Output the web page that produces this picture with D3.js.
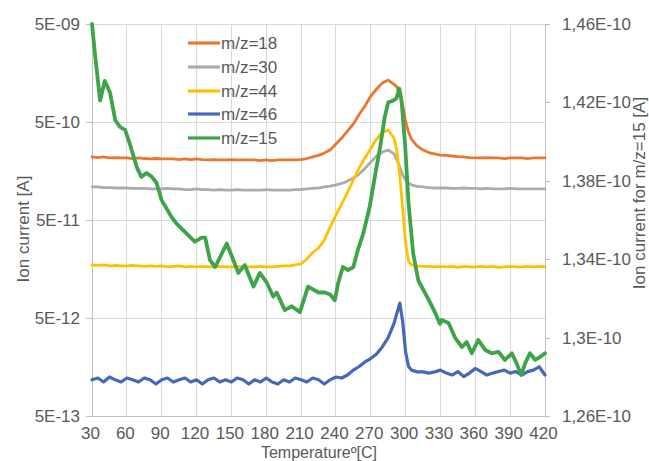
<!DOCTYPE html>
<html>
<head>
<meta charset="utf-8">
<script src="https://cdn.jsdelivr.net/npm/d3@7/dist/d3.min.js"></script>
<style>
  html, body { margin: 0; padding: 0; background: #fff; }
  svg { display: block; font-family: "Liberation Sans", Arial, sans-serif; }
</style>
</head>
<body>
<svg id="chart" width="649" height="461"></svg>
<script>
// ---------- data ----------
const temps = [30,35,40,45,50,55,60,65,70,75,80,85,90,95,100,105,110,115,120,125,130,135,140,145,150,155,160,165,170,175,180,185,190,195,200,205,210,215,220,225,230,235,240,245,250,255,260,265,270,275,280,285,290,292.5,295,297.5,300,302.5,305,310,315,320,325,330,335,340,345,350,355,360,365,370,375,380,385,390,395,400,405,410,415,420];

const mz18 = [2.20e-10,2.17e-10,2.20e-10,2.15e-10,2.17e-10,2.15e-10,2.15e-10,2.12e-10,2.15e-10,2.12e-10,2.10e-10,2.12e-10,2.10e-10,2.10e-10,2.10e-10,2.07e-10,2.10e-10,2.07e-10,2.10e-10,2.07e-10,2.05e-10,2.07e-10,2.05e-10,2.05e-10,2.07e-10,2.05e-10,2.05e-10,2.05e-10,2.05e-10,2.02e-10,2.05e-10,2.02e-10,2.05e-10,2.05e-10,2.05e-10,2.05e-10,2.07e-10,2.12e-10,2.20e-10,2.28e-10,2.41e-10,2.59e-10,2.98e-10,3.43e-10,4.05e-10,4.77e-10,5.96e-10,7.28e-10,9.21e-10,1.086e-9,1.25e-9,1.34e-9,1.21e-9,1.14e-9,9.4e-10,7.45e-10,5.1e-10,3.95e-10,3.35e-10,2.84e-10,2.59e-10,2.44e-10,2.36e-10,2.30e-10,2.28e-10,2.25e-10,2.22e-10,2.20e-10,2.17e-10,2.15e-10,2.15e-10,2.17e-10,2.15e-10,2.15e-10,2.12e-10,2.15e-10,2.15e-10,2.15e-10,2.12e-10,2.15e-10,2.15e-10,2.15e-10];

const mz30 = [1.09e-10,1.09e-10,1.07e-10,1.07e-10,1.06e-10,1.06e-10,1.06e-10,1.05e-10,1.05e-10,1.05e-10,1.04e-10,1.04e-10,1.04e-10,1.05e-10,1.04e-10,1.04e-10,1.02e-10,1.02e-10,1.04e-10,1.02e-10,1.02e-10,1.01e-10,1.02e-10,1.01e-10,1.01e-10,1.02e-10,1.01e-10,1.01e-10,1.01e-10,1.01e-10,1.02e-10,1.01e-10,1.01e-10,1.01e-10,1.01e-10,1.02e-10,1.02e-10,1.04e-10,1.05e-10,1.06e-10,1.09e-10,1.11e-10,1.14e-10,1.18e-10,1.25e-10,1.34e-10,1.47e-10,1.68e-10,1.95e-10,2.25e-10,2.47e-10,2.59e-10,2.36e-10,2.05e-10,1.74e-10,1.44e-10,1.28e-10,1.19e-10,1.14e-10,1.10e-10,1.09e-10,1.07e-10,1.06e-10,1.06e-10,1.06e-10,1.05e-10,1.05e-10,1.06e-10,1.05e-10,1.05e-10,1.04e-10,1.05e-10,1.04e-10,1.04e-10,1.04e-10,1.05e-10,1.04e-10,1.04e-10,1.04e-10,1.04e-10,1.04e-10,1.04e-10];

const mz44 = [1.74e-11,1.72e-11,1.74e-11,1.70e-11,1.72e-11,1.70e-11,1.70e-11,1.72e-11,1.70e-11,1.68e-11,1.70e-11,1.68e-11,1.70e-11,1.66e-11,1.68e-11,1.70e-11,1.66e-11,1.68e-11,1.66e-11,1.68e-11,1.66e-11,1.66e-11,1.68e-11,1.66e-11,1.66e-11,1.68e-11,1.66e-11,1.66e-11,1.66e-11,1.68e-11,1.66e-11,1.66e-11,1.68e-11,1.70e-11,1.70e-11,1.74e-11,1.78e-11,2.00e-11,2.33e-11,2.59e-11,3.12e-11,4.24e-11,5.62e-11,7.28e-11,9.65e-11,1.28e-10,1.70e-10,2.15e-10,2.68e-10,3.35e-10,3.91e-10,4.14e-10,3.43e-10,2.53e-10,1.41e-10,6.47e-11,2.91e-11,1.89e-11,1.74e-11,1.70e-11,1.68e-11,1.68e-11,1.66e-11,1.68e-11,1.66e-11,1.68e-11,1.64e-11,1.68e-11,1.66e-11,1.66e-11,1.68e-11,1.66e-11,1.68e-11,1.64e-11,1.66e-11,1.68e-11,1.66e-11,1.66e-11,1.68e-11,1.66e-11,1.68e-11,1.66e-11];

const mz46 = [1.17e-12,1.22e-12,1.11e-12,1.25e-12,1.17e-12,1.11e-12,1.22e-12,1.17e-12,1.11e-12,1.22e-12,1.17e-12,1.06e-12,1.17e-12,1.22e-12,1.11e-12,1.17e-12,1.22e-12,1.11e-12,1.17e-12,1.06e-12,1.17e-12,1.22e-12,1.11e-12,1.17e-12,1.11e-12,1.22e-12,1.17e-12,1.06e-12,1.17e-12,1.11e-12,1.22e-12,1.11e-12,1.06e-12,1.17e-12,1.11e-12,1.22e-12,1.17e-12,1.11e-12,1.22e-12,1.17e-12,1.06e-12,1.17e-12,1.25e-12,1.22e-12,1.31e-12,1.47e-12,1.60e-12,1.78e-12,1.93e-12,2.15e-12,2.55e-12,3.15e-12,4.4e-12,5.6e-12,7.1e-12,4.55e-12,2.25e-12,1.6e-12,1.47e-12,1.41e-12,1.41e-12,1.37e-12,1.41e-12,1.47e-12,1.37e-12,1.31e-12,1.42e-12,1.26e-12,1.37e-12,1.53e-12,1.42e-12,1.31e-12,1.37e-12,1.42e-12,1.47e-12,1.37e-12,1.42e-12,1.31e-12,1.42e-12,1.47e-12,1.59e-12,1.31e-12];

const tempsMz15 = [30,32.5,37,41,45.5,50,54,58.5,62.5,68.5,72.5,77,81.5,85.5,90,98.5,103,111.5,118.5,124.5,127.5,131.5,136,146,156,161.5,169,174.5,180.5,186,189,196,202,209,216,225,230.5,235,239,242,246,250.5,255,259,263.5,269,273.5,278,282,285,289.5,292,294.5,296.5,299.5,302.5,306.5,311,316.5,321,325.5,329.5,331,337,342.5,348.5,352.5,357,362.5,368.5,374,380,385.5,391.5,395.5,399.5,403,407,411.5,415.5,420];
const mz15 = [1.46e-10,1.445e-10,1.421e-10,1.431e-10,1.425e-10,1.411e-10,1.4075e-10,1.406e-10,1.399e-10,1.387e-10,1.382e-10,1.384e-10,1.382e-10,1.379e-10,1.370e-10,1.3615e-10,1.358e-10,1.353e-10,1.349e-10,1.351e-10,1.351e-10,1.3396e-10,1.336e-10,1.348e-10,1.333e-10,1.337e-10,1.326e-10,1.333e-10,1.328e-10,1.321e-10,1.323e-10,1.314e-10,1.316e-10,1.313e-10,1.326e-10,1.323e-10,1.323e-10,1.322e-10,1.319e-10,1.328e-10,1.336e-10,1.3345e-10,1.336e-10,1.345e-10,1.353e-10,1.3666e-10,1.382e-10,1.397e-10,1.4125e-10,1.420e-10,1.421e-10,1.422e-10,1.427e-10,1.421e-10,1.399e-10,1.3687e-10,1.343e-10,1.329e-10,1.323e-10,1.318e-10,1.3126e-10,1.307e-10,1.309e-10,1.3075e-10,1.300e-10,1.2952e-10,1.2978e-10,1.292e-10,1.2988e-10,1.2937e-10,1.292e-10,1.2927e-10,1.2886e-10,1.292e-10,1.2870e-10,1.281e-10,1.287e-10,1.292e-10,1.2886e-10,1.290e-10,1.292e-10];

const xTicks = [30,60,90,120,150,180,210,240,270,300,330,360,390,420];
const leftTicks = [5e-9,5e-10,5e-11,5e-12,5e-13];
const leftTickLabels = ["5E-09","5E-10","5E-11","5E-12","5E-13"];
const rightTicks = [1.46e-10,1.42e-10,1.38e-10,1.34e-10,1.30e-10,1.26e-10];
const rightTickLabels = ["1,46E-10","1,42E-10","1,38E-10","1,34E-10","1,3E-10","1,26E-10"];

const seriesNames = ["m/z=18","m/z=30","m/z=44","m/z=46","m/z=15"];
const seriesColors = ["#E9772F","#ABABAB","#FFC000","#4668B8","#3FA34A"];

// ---------- layout ----------
const svg = d3.select("#chart");
const X0 = 92, X1 = 545, Y0 = 24, Y1 = 416;
const textColor = "#595959";
const fontSize = 17;

const x = d3.scaleLinear().domain([30, 420]).range([X0, X1]);
const yL = d3.scaleLog().domain([5e-13, 5e-9]).range([Y1, Y0]);
const yR = d3.scaleLinear().domain([1.26e-10, 1.46e-10]).range([Y1, Y0]);

// gridlines
const grid = svg.append("g");
grid.selectAll("line.v").data(xTicks.slice(1)).enter().append("line")
  .attr("x1", d => x(d)).attr("x2", d => x(d))
  .attr("y1", Y0).attr("y2", Y1)
  .attr("stroke", "#D9D9D9").attr("stroke-width", 1).attr("shape-rendering","crispEdges");
grid.selectAll("line.h").data(leftTicks.slice(0, 4)).enter().append("line")
  .attr("x1", X0).attr("x2", X1)
  .attr("y1", d => yL(d)).attr("y2", d => yL(d))
  .attr("stroke", "#D9D9D9").attr("stroke-width", 1).attr("shape-rendering","crispEdges");

// axes
function styleAxis(g) {
  g.selectAll("path.domain").attr("stroke", "#BFBFBF").attr("stroke-width", 1);
  g.selectAll(".tick line").attr("stroke", "#BFBFBF");
  g.selectAll(".tick text").attr("fill", textColor)
    .style("font-size", fontSize + "px")
    .style("font-family", '"Liberation Sans", Arial, sans-serif');
  g.attr("shape-rendering", "crispEdges");
}

const axL = svg.append("g").attr("transform", `translate(${X0},0)`)
  .call(d3.axisLeft(yL).tickValues(leftTicks).tickFormat((d, i) => leftTickLabels[i])
    .tickSizeInner(6).tickSizeOuter(0).tickPadding(6));
styleAxis(axL);

const axR = svg.append("g").attr("transform", `translate(${X1},0)`)
  .call(d3.axisRight(yR).tickValues(rightTicks).tickFormat((d, i) => rightTickLabels[i])
    .tickSizeInner(5).tickSizeOuter(0).tickPadding(12));
styleAxis(axR);

const axB = svg.append("g").attr("transform", `translate(0,${Y1})`)
  .call(d3.axisBottom(x).tickValues(xTicks).tickFormat(d3.format("d"))
    .tickSizeInner(0).tickSizeOuter(0).tickPadding(11));
styleAxis(axB);
axB.selectAll(".tick text").attr("dx", "-2");

// axis titles
svg.append("text")
  .attr("transform", `translate(23,229) rotate(-90)`)
  .attr("text-anchor", "middle").attr("dominant-baseline", "central")
  .attr("fill", textColor).style("font-size", fontSize + "px")
  .text("Ion current [A]");
svg.append("text")
  .attr("transform", `translate(639,193) rotate(-90)`)
  .attr("text-anchor", "middle").attr("dominant-baseline", "central")
  .attr("fill", textColor).style("font-size", fontSize + "px")
  .text("Ion current for m/z=15 [A]");
svg.append("text")
  .attr("x", 319).attr("y", 457.6)
  .attr("text-anchor", "middle")
  .attr("fill", textColor).style("font-size", "16px")
  .text("Temperature\u00BA[C]");

// lines
const lineL = d3.line().x(d => x(d[0])).y(d => yL(d[1]));
const lineR = d3.line().x(d => x(d[0])).y(d => yR(d[1]));

const leftSeries = [mz18, mz30, mz44, mz46];
const widths = [2.8, 2.8, 2.8, 3.2, 3.8];
const plot = svg.append("g");
leftSeries.forEach((vals, i) => {
  plot.append("path")
    .datum(d3.zip(temps, vals))
    .attr("d", lineL)
    .attr("fill", "none")
    .attr("stroke", seriesColors[i])
    .attr("stroke-width", widths[i])
    .attr("stroke-linejoin", "round")
    .attr("stroke-linecap", "round");
});
plot.append("path")
  .datum(d3.zip(tempsMz15, mz15))
  .attr("d", lineR)
  .attr("fill", "none")
  .attr("stroke", seriesColors[4])
  .attr("stroke-width", widths[4])
  .attr("stroke-linejoin", "round")
  .attr("stroke-linecap", "round");

// legend
const legendY = [43, 67, 91, 114, 138];
const lg = svg.append("g");
seriesNames.forEach((name, i) => {
  lg.append("line")
    .attr("x1", 188).attr("x2", 220)
    .attr("y1", legendY[i]).attr("y2", legendY[i])
    .attr("stroke", seriesColors[i]).attr("stroke-width", 3.2);
  lg.append("text")
    .attr("x", 221).attr("y", legendY[i])
    .attr("dominant-baseline", "central")
    .attr("fill", textColor).style("font-size", fontSize + "px")
    .text(name);
});
</script>
</body>
</html>
